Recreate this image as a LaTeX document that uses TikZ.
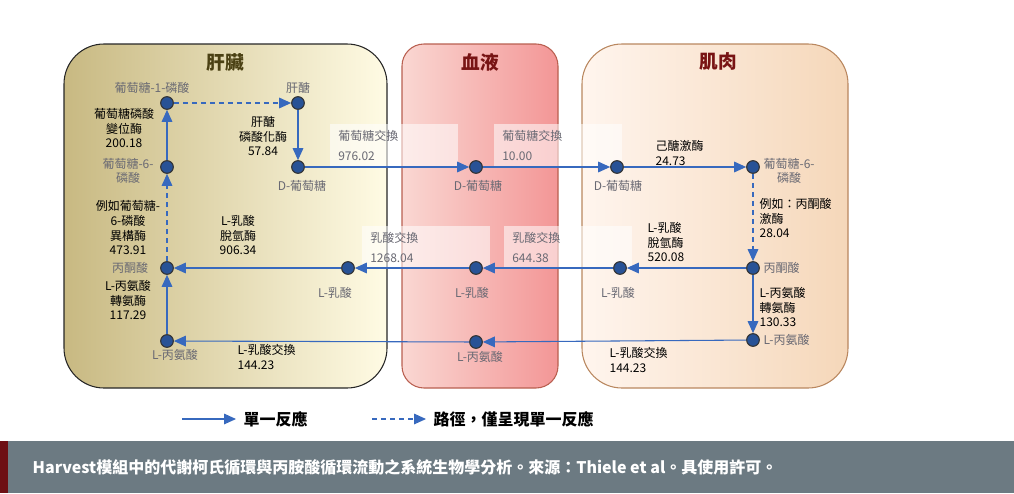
\documentclass[tikz,border=0pt]{standalone}
\usepackage{fontspec}
\setmainfont{Noto Sans CJK TC}
\usetikzlibrary{arrows.meta, positioning}
\definecolor{metblue}{RGB}{40,82,150}
\definecolor{arrblue}{RGB}{55,105,190}
\definecolor{lblgray}{RGB}{105,105,115}
\definecolor{footgray}{RGB}{108,122,130}
\definecolor{footred}{RGB}{110,15,20}
\definecolor{liverL}{RGB}{200,185,130}
\definecolor{liverR}{RGB}{255,251,228}
\definecolor{bloodL}{RGB}{250,215,210}
\definecolor{bloodR}{RGB}{243,150,150}
\definecolor{bloodD}{RGB}{185,95,80}
\definecolor{muscL}{RGB}{255,245,238}
\definecolor{muscR}{RGB}{245,215,185}
\definecolor{muscD}{RGB}{185,135,95}
\definecolor{livertitle}{RGB}{75,65,20}
\definecolor{redtitle}{RGB}{120,20,20}
\tikzset{
  met/.style={circle, draw=black!80, fill=metblue, minimum size=9.5pt, inner sep=0pt, thick},
  lbl/.style={text=lblgray, font=\fontsize{9}{11}\selectfont, align=center, inner sep=1pt},
  enz/.style={text=black, font=\fontsize{9}{11}\selectfont, align=center, inner sep=1pt},
  xfer/.style={text=lblgray, fill=white, fill opacity=0.55, text opacity=1, font=\fontsize{9}{15}\selectfont, align=left, anchor=north west, text width=84pt, minimum height=31.5pt, inner sep=3pt, inner xsep=6pt},
  rxn/.style={draw=arrblue, thick, -{Triangle[length=9pt,width=8pt]}},
  path/.style={rxn, dash pattern=on 3.75pt off 3pt},
  panel/.style={rounded corners=30pt, thick},
  title/.style={font=\bfseries\fontsize{14}{16}\selectfont},
  legend/.style={enz, anchor=west, font=\bfseries\fontsize{12}{14}\selectfont},
}
\begin{document}
\begin{tikzpicture}[x=0.75pt, y=-0.75pt]
  \useasboundingbox (0,0) rectangle (1014,493);
  % compartments
  \draw[panel, draw=black!85, left color=liverL, right color=liverR] (64,44) rectangle (387,388);
  \draw[panel, rounded corners=16.5pt, draw=bloodD, left color=bloodL, right color=bloodR] (402,44) rectangle (558,388);
  \draw[panel, draw=muscD, left color=muscL, right color=muscR] (582,44) rectangle (848,388);
  \node[title, text=livertitle] at (225,62) {肝臟};
  \node[title, text=redtitle] at (480,62) {血液};
  \node[title, text=redtitle] at (718,62) {肌肉};

  % transport labels
  \node[xfer] at (330,124) {葡萄糖交換\\976.02};
  \node[xfer] at (494,124) {葡萄糖交換\\10.00};
  \node[xfer] at (362,226) {乳酸交換\\1268.04};
  \node[xfer] at (504,226) {乳酸交換\\644.38};

  % metabolites: liver
  \node[met] (lg1p) at (167,103) {};
  \node[met] (lgly) at (298,103) {};
  \node[met] (lg6p) at (167,167) {};
  \node[met] (lglc) at (298,167) {};
  \node[met] (lpyr) at (167,268) {};
  \node[met] (llac) at (348,268) {};
  \node[met] (lala) at (167,341) {};
  % metabolites: blood
  \node[met] (bglc) at (476,167) {};
  \node[met] (blac) at (476,268) {};
  \node[met] (bala) at (476,342) {};
  % metabolites: muscle
  \node[met] (mglc) at (617,167) {};
  \node[met] (mg6p) at (753,167) {};
  \node[met] (mpyr) at (753,268) {};
  \node[met] (mlac) at (620,268) {};
  \node[met] (mala) at (753,340) {};

  % metabolite names
  \node[lbl] at (152,88) {葡萄糖-1-磷酸};
  \node[lbl] at (298,88) {肝醣};
  \node[lbl] at (128,171) {葡萄糖-6-\\磷酸};
  \node[lbl] at (302,186) {D-葡萄糖};
  \node[lbl] at (130,268) {丙酮酸};
  \node[lbl] at (335,293) {L-乳酸};
  \node[lbl] at (175,355) {L-丙氨酸};
  \node[lbl] at (478,186) {D-葡萄糖};
  \node[lbl] at (472,293) {L-乳酸};
  \node[lbl] at (480,357) {L-丙氨酸};
  \node[lbl] at (618,186) {D-葡萄糖};
  \node[lbl] at (618,293) {L-乳酸};
  \node[lbl, anchor=west] at (762,171) {葡萄糖-6-\\磷酸};
  \node[lbl, anchor=west] at (762,268) {丙酮酸};
  \node[lbl, anchor=west] at (762,340) {L-丙氨酸};

  % enzymes
  \node[enz] at (124,128) {葡萄糖磷酸\\變位酶\\200.18};
  \node[enz] at (263,136) {肝醣\\磷酸化酶\\57.84};
  \node[enz] at (128,228) {例如葡萄糖-\\6-磷酸\\異構酶\\473.91};
  \node[enz] at (238,235) {L-乳酸\\脫氫酶\\906.34};
  \node[enz] at (128,300) {L-丙氨酸\\轉氨酶\\117.29};
  \node[enz, align=left, anchor=west] at (236,357) {L-乳酸交換\\144.23};
  \node[enz, align=left, anchor=west] at (654,153) {己醣激酶\\24.73};
  \node[enz, align=left, anchor=west] at (758,218) {例如：丙酮酸\\激酶\\28.04};
  \node[enz, align=left, anchor=west] at (646,242) {L-乳酸\\脫氫酶\\520.08};
  \node[enz, align=left, anchor=west] at (758,307) {L-丙氨酸\\轉氨酶\\130.33};
  \node[enz, align=left, anchor=west] at (608,360) {L-乳酸交換\\144.23};

  % reactions
  \draw[path] (lg1p) -- (lgly);
  \draw[rxn] (lgly) -- (lglc);
  \draw[rxn] (lglc) -- (bglc);
  \draw[rxn] (bglc) -- (mglc);
  \draw[rxn] (mglc) -- (mg6p);
  \draw[path] (mg6p) -- (mpyr);
  \draw[rxn] (mpyr) -- (mlac);
  \draw[rxn] (mlac) -- (blac);
  \draw[rxn] (blac) -- (llac);
  \draw[rxn] (llac) -- (lpyr);
  \draw[rxn] (mpyr) -- (mala);
  \draw[rxn] (mala) -- (bala);
  \draw[rxn] (bala) -- (lala);
  \draw[rxn] (lala) -- (lpyr);
  \draw[path] (lpyr) -- (lg6p);
  \draw[rxn] (lg6p) -- (lg1p);

  % legend
  \coordinate (k1a) at (182,419); \coordinate (k1b) at (236,419);
  \coordinate (k2a) at (372,419); \coordinate (k2b) at (426,419);
  \draw[rxn] (k1a) -- (k1b);
  \draw[path] (k2a) -- (k2b);
  \node[legend] at (242,419) {單一反應};
  \node[legend] at (432,419) {路徑，僅呈現單一反應};

  % caption bar
  \fill[footgray] (0,441) rectangle (1014,493);
  \fill[footred] (0,441) rectangle (8,493);
  \node[anchor=west, text=white, font=\bfseries\fontsize{12}{14}\selectfont] at (28,467) {Harvest模組中的代謝柯氏循環與丙胺酸循環流動之系統生物學分析。來源：Thiele et al。具使用許可。};
\end{tikzpicture}
\end{document}
